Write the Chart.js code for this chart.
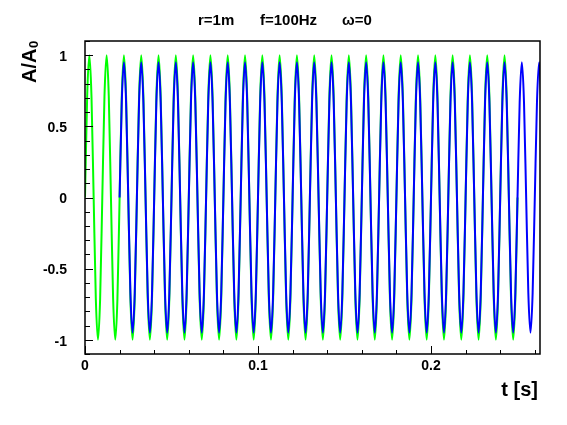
<!DOCTYPE html>
<html><head><meta charset="utf-8">
<script src="https://cdn.jsdelivr.net/npm/chart.js@4.4.1/dist/chart.umd.min.js"></script>
<style>html,body{margin:0;padding:0;background:#fff;overflow:hidden}canvas{display:block}</style>
</head><body>
<canvas id="c" width="567" height="425"></canvas>
<script>
// ---- text ----
const titleParts = ['r=1m', 'f=100Hz', '\u03c9=0'];
const xAxisTitle = 't [s]';
const yAxisTitle = 'A/A';
const yAxisTitleSub = '0';

// ---- ticks ----
const xTickValues = [0, 0.1, 0.2];
const xTickLabels = ['0', '0.1', '0.2'];
const yTickValues = [-1, -0.5, 0, 0.5, 1];
const yTickLabels = ['-1', '-0.5', '0', '0.5', '1'];
const xMinorStep = 0.02;
const yMinorStep = 0.1;
const xRange = [0, 0.263];
const yRange = [-1.1, 1.1];

const sampleStep = 0.00125;
const greenStart = 0;     // source signal starts at t = 0
const blueStart = 0.02;   // received signal starts at t = 0.02 s

const greenValues = [
  0, 0.71, 1, 0.71, 0, -0.71, -1, -0.71,
  0, 0.71, 1, 0.71, 0, -0.71, -1, -0.71,
  0, 0.71, 1, 0.71, 0, -0.71, -1, -0.71,
  0, 0.71, 1, 0.71, 0, -0.71, -1, -0.71,
  0, 0.71, 1, 0.71, 0, -0.71, -1, -0.71,
  0, 0.71, 1, 0.71, 0, -0.71, -1, -0.71,
  0, 0.71, 1, 0.71, 0, -0.71, -1, -0.71,
  0, 0.71, 1, 0.71, 0, -0.71, -1, -0.71,
  0, 0.71, 1, 0.71, 0, -0.71, -1, -0.71,
  0, 0.71, 1, 0.71, 0, -0.71, -1, -0.71,
  0, 0.71, 1, 0.71, 0, -0.71, -1, -0.71,
  0, 0.71, 1, 0.71, 0, -0.71, -1, -0.71,
  0, 0.71, 1, 0.71, 0, -0.71, -1, -0.71,
  0, 0.71, 1, 0.71, 0, -0.71, -1, -0.71,
  0, 0.71, 1, 0.71, 0, -0.71, -1, -0.71,
  0, 0.71, 1, 0.71, 0, -0.71, -1, -0.71,
  0, 0.71, 1, 0.71, 0, -0.71, -1, -0.71,
  0, 0.71, 1, 0.71, 0, -0.71, -1, -0.71,
  0, 0.71, 1, 0.71, 0, -0.71, -1, -0.71,
  0, 0.71, 1, 0.71, 0, -0.71, -1, -0.71,
  0, 0.71, 1, 0.71, 0, -0.71, -1, -0.71,
  0, 0.71, 1, 0.71, 0, -0.71, -1, -0.71,
  0, 0.71, 1, 0.71, 0, -0.71, -1, -0.71,
  0, 0.71, 1, 0.71, 0, -0.71, -1, -0.71,
  0, 0.71, 1, 0.71, 0, -0.71, -1, -0.71,
  0
];

const blueValues = [
  0, 0.67, 0.95, 0.67, 0, -0.67, -0.95, -0.67,
  0, 0.67, 0.95, 0.67, 0, -0.67, -0.95, -0.67,
  0, 0.67, 0.95, 0.67, 0, -0.67, -0.95, -0.67,
  0, 0.67, 0.95, 0.67, 0, -0.67, -0.95, -0.67,
  0, 0.67, 0.95, 0.67, 0, -0.67, -0.95, -0.67,
  0, 0.67, 0.95, 0.67, 0, -0.67, -0.95, -0.67,
  0, 0.67, 0.95, 0.67, 0, -0.67, -0.95, -0.67,
  0, 0.67, 0.95, 0.67, 0, -0.67, -0.95, -0.67,
  0, 0.67, 0.95, 0.67, 0, -0.67, -0.95, -0.67,
  0, 0.67, 0.95, 0.67, 0, -0.67, -0.95, -0.67,
  0, 0.67, 0.95, 0.67, 0, -0.67, -0.95, -0.67,
  0, 0.67, 0.95, 0.67, 0, -0.67, -0.95, -0.67,
  0, 0.67, 0.95, 0.67, 0, -0.67, -0.95, -0.67,
  0, 0.67, 0.95, 0.67, 0, -0.67, -0.95, -0.67,
  0, 0.67, 0.95, 0.67, 0, -0.67, -0.95, -0.67,
  0, 0.67, 0.95, 0.67, 0, -0.67, -0.95, -0.67,
  0, 0.67, 0.95, 0.67, 0, -0.67, -0.95, -0.67,
  0, 0.67, 0.95, 0.67, 0, -0.67, -0.95, -0.67,
  0, 0.67, 0.95, 0.67, 0, -0.67, -0.95, -0.67,
  0, 0.67, 0.95, 0.67, 0, -0.67, -0.95, -0.67,
  0, 0.67, 0.95, 0.67, 0, -0.67, -0.95, -0.67,
  0, 0.67, 0.95, 0.67, 0, -0.67, -0.95, -0.67,
  0, 0.67, 0.95, 0.67, 0, -0.67, -0.95, -0.67,
  0, 0.67, 0.95, 0.67, 0, -0.67, -0.95, -0.67,
  0, 0.67, 0.95, 0.67
];

const toPoints = (start, vals) => vals.map((v, i) => ({ x: start + i * sampleStep, y: v }));

const FONT = '"Liberation Sans", Arial, Helvetica, sans-serif';

const rootStyle = {
  id: 'rootStyle',
  afterDraw(chart) {
    const { ctx, chartArea: { left, right, top, bottom }, scales: { x, y } } = chart;
    ctx.save();
    // inner tick marks
    ctx.strokeStyle = '#000';
    ctx.lineWidth = 1;
    ctx.beginPath();
    const yk0 = Math.ceil(yRange[0] / yMinorStep - 1e-9), yk1 = Math.floor(yRange[1] / yMinorStep + 1e-9);
    for (let k = yk0; k <= yk1; k++) {
      const v = k * yMinorStep;
      const major = yTickValues.some(t => Math.abs(t - v) < 1e-9);
      const py = Math.round(y.getPixelForValue(v)) + 0.5;
      ctx.moveTo(left, py);
      ctx.lineTo(left + (major ? 8 : 5), py);
    }
    const xk1 = Math.floor(xRange[1] / xMinorStep + 1e-9);
    for (let k = 0; k <= xk1; k++) {
      const v = k * xMinorStep;
      const major = xTickValues.some(t => Math.abs(t - v) < 1e-9);
      const px = Math.round(x.getPixelForValue(v)) + 0.5;
      ctx.moveTo(px, bottom);
      ctx.lineTo(px, bottom - (major ? 8 : 4));
    }
    ctx.stroke();
    // frame
    ctx.lineWidth = 1.5;
    ctx.strokeRect(left, top, right - left, bottom - top);

    // title
    ctx.fillStyle = '#000';
    ctx.font = 'bold 15px ' + FONT;
    ctx.textBaseline = 'alphabetic';
    ctx.textAlign = 'left';
    const titleX = [198, 260, 342];
    titleParts.forEach((s, i) => ctx.fillText(s, titleX[i], 25));

    // x-axis title
    ctx.font = 'bold 20px ' + FONT;
    ctx.textAlign = 'right';
    ctx.fillText(xAxisTitle, 538, 396);

    // y-axis title (rotated, with subscript)
    ctx.save();
    ctx.translate(35.5, 83);
    ctx.rotate(-Math.PI / 2);
    ctx.textAlign = 'left';
    ctx.font = 'bold 20px ' + FONT;
    ctx.fillText(yAxisTitle, 0, 0);
    const w = ctx.measureText(yAxisTitle).width;
    ctx.font = 'bold 13px ' + FONT;
    ctx.fillText(yAxisTitleSub, w + 0.5, 2.5);
    ctx.restore();

    ctx.restore();
  }
};

new Chart(document.getElementById('c'), {
  type: 'line',
  data: {
    datasets: [
      {
        label: 'received',
        data: toPoints(blueStart, blueValues),
        borderColor: '#0000ff',
        borderWidth: 2,
        pointRadius: 0,
        cubicInterpolationMode: 'monotone',
        fill: false,
        clip: 0
      },
      {
        label: 'source',
        data: toPoints(greenStart, greenValues),
        borderColor: '#00ff00',
        borderWidth: 2,
        pointRadius: 0,
        cubicInterpolationMode: 'monotone',
        fill: false,
        clip: 0
      }
    ]
  },
  options: {
    responsive: false,
    animation: false,
    devicePixelRatio: 1,
    layout: { padding: { left: 0, right: 27, top: 41, bottom: 0 } },
    plugins: { legend: { display: false }, title: { display: false }, tooltip: { enabled: false } },
    scales: {
      x: {
        type: 'linear',
        min: xRange[0],
        max: xRange[1],
        grid: { display: false, drawTicks: false },
        border: { display: false },
        afterBuildTicks: s => { s.ticks = xTickValues.map(v => ({ value: v })); },
        afterFit: s => { s.height = 71; },
        ticks: {
          padding: 4,
          autoSkip: false,
          maxRotation: 0,
          color: '#000',
          font: { family: FONT, size: 14, weight: 'bold' },
          callback: v => xTickLabels[xTickValues.findIndex(t => Math.abs(t - v) < 1e-9)]
        }
      },
      y: {
        type: 'linear',
        min: yRange[0],
        max: yRange[1],
        grid: { display: false, drawTicks: false },
        border: { display: false },
        afterBuildTicks: s => { s.ticks = yTickValues.map(v => ({ value: v })); },
        afterFit: s => { s.width = 85; },
        ticks: {
          padding: 18,
          labelOffset: 2,
          color: '#000',
          font: { family: FONT, size: 14, weight: 'bold' },
          callback: v => yTickLabels[yTickValues.findIndex(t => Math.abs(t - v) < 1e-9)]
        }
      }
    }
  },
  plugins: [rootStyle]
});
</script>
</body></html>
